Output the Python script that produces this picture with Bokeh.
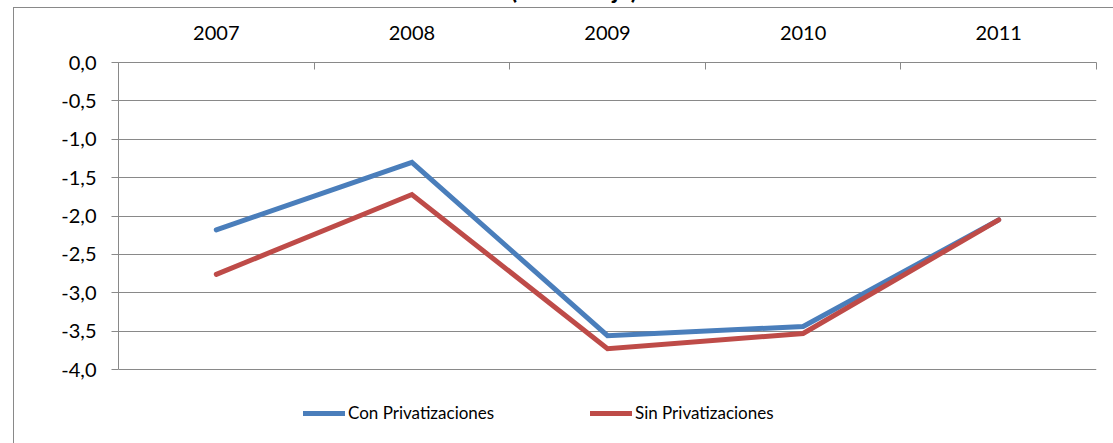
from bokeh.plotting import figure
from bokeh.models import FixedTicker, Range1d, Legend, LegendItem, Title
from bokeh.embed import file_html
from bokeh.resources import INLINE

# ---- data ----
years = ["2007", "2008", "2009", "2010", "2011"]
con_privatizaciones = [-2.18, -1.30, -3.56, -3.44, -2.05]
sin_privatizaciones = [-2.76, -1.72, -3.73, -3.53, -2.05]
y_ticks = [0.0, -0.5, -1.0, -1.5, -2.0, -2.5, -3.0, -3.5, -4.0]
y_tick_labels = ["0,0", "-0,5", "-1,0", "-1,5", "-2,0", "-2,5", "-3,0", "-3,5", "-4,0"]
series_names = ["Con Privatizaciones", "Sin Privatizaciones"]
title_text = "(Porcentaje)"

FONT = "Lato"
GRID = "#898989"
BLUE = "#4A7EBB"
RED = "#BE4B48"

T = 60            # canvas part hidden above the page top (title is mostly cut off)
FRAME_TOP = 62    # page y of the 0,0 line
AXIS_BOTTOM = 369 # page y of the -4,0 line
PAGE_H = 443

x_pos = [i + 0.5 for i in range(len(years))]
y_min, y_max = min(y_ticks), max(y_ticks)
px_per_unit = (AXIS_BOTTOM - FRAME_TOP) / (y_max - y_min)
# the frame reaches the page bottom so the legend can sit inside it
y_low = y_min - (PAGE_H - AXIS_BOTTOM) / px_per_unit

p = figure(width=1113, height=PAGE_H + T, output_backend="svg", toolbar_location=None,
           x_range=Range1d(0, len(years)), y_range=Range1d(y_low, y_max),
           x_axis_location="above",
           min_border_left=118, min_border_right=17, min_border_top=FRAME_TOP + T,
           min_border_bottom=0)
p.styles = {
    "position": "absolute", "left": "0px", "top": f"-{T}px",
    "background": (f"linear-gradient({GRID},{GRID}) 13px {7 + T}px / 1px 100% no-repeat, "
                   f"linear-gradient({GRID},{GRID}) 13px {7 + T}px / 100% 1px no-repeat, white"),
}
p.outline_line_color = None
p.background_fill_color = "white"
p.border_fill_alpha = 0

p.title = Title(text=title_text, text_font=FONT, text_font_size="24px",
                text_font_style="bold", align="left", offset=392, standoff=37,
                text_color="black")

# x axis (top)
xa = p.xaxis[0]
xa.ticker = FixedTicker(ticks=x_pos, minor_ticks=list(range(len(years) + 1)))
xa.major_label_overrides = {x: y for x, y in zip(x_pos, years)}
xa.major_tick_in = 0
xa.major_tick_out = 0
xa.minor_tick_in = 7
xa.minor_tick_out = 0
xa.minor_tick_line_color = GRID
xa.axis_line_color = GRID
xa.major_label_text_font = FONT
xa.major_label_text_font_size = "20px"
xa.major_label_text_color = "black"
xa.major_label_standoff = 23

# y axis (line limited to the value range)
ya = p.yaxis[0]
ya.bounds = (y_min, y_max)
ya.ticker = FixedTicker(ticks=y_ticks, minor_ticks=[])
ya.major_label_overrides = {t: l for t, l in zip(y_ticks, y_tick_labels)}
ya.major_tick_in = 0
ya.major_tick_out = 7
ya.major_tick_line_color = GRID
ya.axis_line_color = GRID
ya.major_label_text_font = FONT
ya.major_label_text_font_size = "20px"
ya.major_label_text_color = "black"
ya.major_label_standoff = 15

p.xgrid.visible = False
p.ygrid.ticker = FixedTicker(ticks=y_ticks)
p.ygrid.grid_line_color = GRID
p.ygrid.grid_line_width = 1

r1 = p.line(x_pos, con_privatizaciones, line_color=BLUE, line_width=5,
            line_cap="round", line_join="miter")
r2 = p.line(x_pos, sin_privatizaciones, line_color=RED, line_width=5,
            line_cap="round", line_join="miter")

legend = Legend(items=[LegendItem(label=series_names[0], renderers=[r1]),
                       LegendItem(label=series_names[1], renderers=[r2])],
                orientation="horizontal", location=(185, 20),
                glyph_width=42, glyph_height=20, label_standoff=3,
                label_width=200, spacing=42, padding=0, margin=0,
                border_line_alpha=0, background_fill_alpha=0,
                label_text_font=FONT, label_text_font_size="17px",
                label_text_color="black")
p.add_layout(legend, "center")

open("out.html", "w").write(file_html(p, INLINE))
